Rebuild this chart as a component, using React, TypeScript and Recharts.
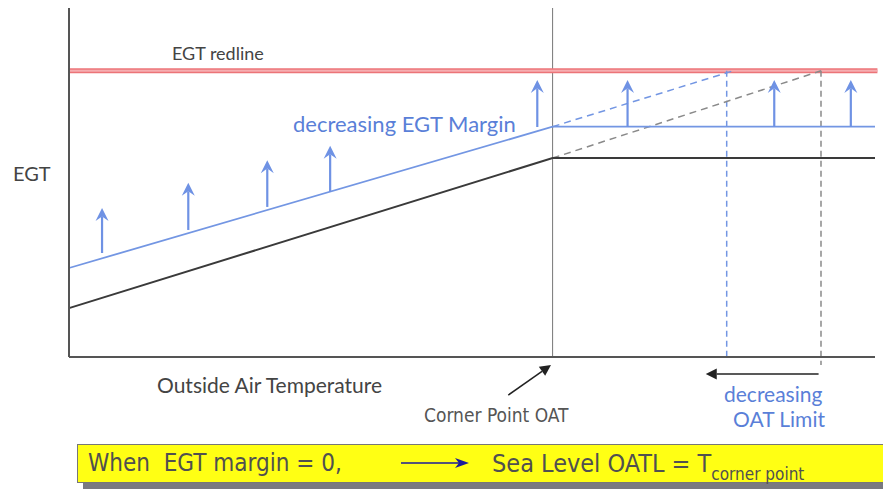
import React from "react";
import {
  ComposedChart,
  Line,
  XAxis,
  YAxis,
  ReferenceLine,
} from "recharts";

// OAT (x) and EGT (y) in arbitrary 0-100 units
const marginLine = [
  { oat: 0, egt: 25.5 },
  { oat: 60, egt: 66 },
  { oat: 100, egt: 66 },
];
const baseLine = [
  { oat: 0, egt: 14 },
  { oat: 60, egt: 57 },
  { oat: 100, egt: 57 },
];
const marginProjection = [
  { oat: 60, egt: 66 },
  { oat: 82.4, egt: 82 },
];
const baseProjection = [
  { oat: 60, egt: 57 },
  { oat: 93.3, egt: 82 },
];
const redlineEgt = 82;
const cornerOat = 60;
const oatLimits = [81.6, 93.3];
const oatLimitBottoms = [0, -2.3];

const arrowOat = [4.1, 14.8, 24.6, 32.4, 58.1, 69.3, 87.5, 97.0];
const arrowBase = [29.8, 36.4, 43.0, 47.3, 65.9, 65.9, 65.9, 65.9];
const arrowTip = [42.7, 49.9, 56.4, 60.5, 79.4, 79.4, 79.4, 79.4];

const BLUE = "#7396e3";
const BLUE_TEXT = "#5a7fd8";
const FONT = "Lato, 'Open Sans', sans-serif";
const NARROW = "'Liberation Sans Narrow', 'DejaVu Sans Condensed', sans-serif";

// arrow from (x1,y1) to (x2,y2), head drawn at the far end
const arrowShape = (color: string, head: number, notch: boolean, width = 2) =>
  (props: any) => {
    const { x1, y1, x2, y2 } = props;
    const dx = x2 - x1;
    const dy = y2 - y1;
    const len = Math.sqrt(dx * dx + dy * dy) || 1;
    const ux = dx / len;
    const uy = dy / len;
    const px = -uy;
    const py = ux;
    const bx = x2 - ux * head;
    const by = y2 - uy * head;
    const nx = x2 - ux * head * (notch ? 0.65 : 1);
    const ny = y2 - uy * head * (notch ? 0.65 : 1);
    const hw = head * 0.5;
    return (
      <g>
        <line x1={x1} y1={y1} x2={nx} y2={ny} stroke={color} strokeWidth={width} />
        <polygon
          points={`${x2},${y2} ${bx + px * hw},${by + py * hw} ${nx},${ny} ${bx - px * hw},${by - py * hw}`}
          fill={color}
        />
      </g>
    );
  };

const upArrow = arrowShape("#6f92e4", 13, true, 2.2);
const blackArrow = arrowShape("#222", 11, false, 1.5);

const label = (
  text: string,
  left: number,
  top: number,
  size: number,
  color: string,
  family = FONT
) => (
  <div
    style={{
      position: "absolute",
      left,
      top,
      transform: "translateY(-50%)",
      fontFamily: family,
      fontSize: size,
      lineHeight: 1,
      color,
      whiteSpace: "pre",
    }}
  >
    {text}
  </div>
);

export default function App() {
  return (
    <div
      style={{
        position: "absolute",
        left: 0,
        top: 0,
        width: 883,
        height: 489,
        background: "#fff",
        overflow: "hidden",
      }}
    >
      <ComposedChart
        width={883}
        height={489}
        margin={{ top: 8, right: 8, bottom: 112, left: 49 }}
      >
        <XAxis
          type="number"
          dataKey="oat"
          domain={[0, 100]}
          height={20}
          tick={false}
          tickLine={false}
          axisLine={{ stroke: "#555", strokeWidth: 2 }}
        />
        <YAxis
          type="number"
          domain={[0, 100]}
          width={20}
          tick={false}
          tickLine={false}
          axisLine={{ stroke: "#555", strokeWidth: 2 }}
        />
        <ReferenceLine x={cornerOat} stroke="#777" strokeWidth={1} />
        <ReferenceLine
          segment={[
            { x: 0, y: redlineEgt },
            { x: 100.3, y: redlineEgt },
          ]}
          stroke="#ec7478"
          strokeWidth={5}
          ifOverflow="visible"
        />
        <ReferenceLine
          segment={[
            { x: 0, y: redlineEgt },
            { x: 100.3, y: redlineEgt },
          ]}
          stroke="#f6adb0"
          strokeWidth={2}
          ifOverflow="visible"
        />
        {oatLimits.map((x, i) => (
          <ReferenceLine
            key={`lim${i}`}
            segment={[
              { x, y: redlineEgt },
              { x, y: oatLimitBottoms[i] },
            ]}
            stroke={i === 0 ? BLUE : "#8a8a8a"}
            strokeWidth={1.5}
            strokeDasharray="6 4"
            ifOverflow="visible"
          />
        ))}
        <Line
          data={marginProjection}
          dataKey="egt"
          type="linear"
          stroke={BLUE}
          strokeWidth={1.5}
          strokeDasharray="7 5"
          dot={false}
          activeDot={false}
          isAnimationActive={false}
        />
        <Line
          data={baseProjection}
          dataKey="egt"
          type="linear"
          stroke="#8a8a8a"
          strokeWidth={1.5}
          strokeDasharray="7 5"
          dot={false}
          activeDot={false}
          isAnimationActive={false}
        />
        <Line
          data={marginLine}
          dataKey="egt"
          type="linear"
          stroke={BLUE}
          strokeWidth={1.8}
          dot={false}
          activeDot={false}
          isAnimationActive={false}
        />
        <Line
          data={baseLine}
          dataKey="egt"
          type="linear"
          stroke="#3a3a3a"
          strokeWidth={2}
          dot={false}
          activeDot={false}
          isAnimationActive={false}
        />
        {arrowOat.map((x, i) => (
          <ReferenceLine
            key={`up${i}`}
            segment={[
              { x, y: arrowBase[i] },
              { x, y: arrowTip[i] },
            ]}
            shape={upArrow}
            ifOverflow="visible"
          />
        ))}
        <ReferenceLine
          segment={[
            { x: 54.5, y: -10.9 },
            { x: 59.8, y: -2.3 },
          ]}
          shape={blackArrow}
          ifOverflow="visible"
        />
        <ReferenceLine
          segment={[
            { x: 93.0, y: -4.9 },
            { x: 79.0, y: -4.9 },
          ]}
          shape={blackArrow}
          ifOverflow="visible"
        />
      </ComposedChart>

      {label("EGT redline", 172, 53, 18, "#444")}
      {label("EGT", 13, 173, 20, "#444")}
      {label("decreasing EGT Margin", 293, 124, 22, BLUE_TEXT)}
      {label("Outside Air Temperature", 157, 384, 21, "#444")}
      {label("Corner Point OAT", 424, 415, 19, "#555", NARROW)}
      {label("decreasing", 724, 393, 21, BLUE_TEXT)}
      {label("OAT Limit", 733, 418, 21, BLUE_TEXT)}

      <div
        style={{
          position: "absolute",
          left: 77,
          top: 444,
          width: 820,
          height: 37,
          background: "#ffff14",
          border: "1px solid #777",
          boxShadow: "6px 6px 0 #7a7a80",
        }}
      />
      {label("When  EGT margin = 0,", 88, 463, 24, "#505050", NARROW)}
      <svg
        width={70}
        height={12}
        style={{ position: "absolute", left: 401, top: 457 }}
      >
        <line x1={0} y1={6} x2={58} y2={6} stroke="#1b1b9a" strokeWidth={1.5} />
        <polygon points="68,6 54,1 58,6 54,11" fill="#1b1b9a" />
      </svg>
      <div
        style={{
          position: "absolute",
          left: 492,
          top: 463,
          transform: "translateY(-50%)",
          fontFamily: NARROW,
          fontSize: 25,
          lineHeight: 1,
          color: "#505050",
          whiteSpace: "pre",
        }}
      >
        Sea Level OATL = T
        <span style={{ fontSize: 17, position: "relative", top: 8 }}>
          corner point
        </span>
      </div>
    </div>
  );
}
